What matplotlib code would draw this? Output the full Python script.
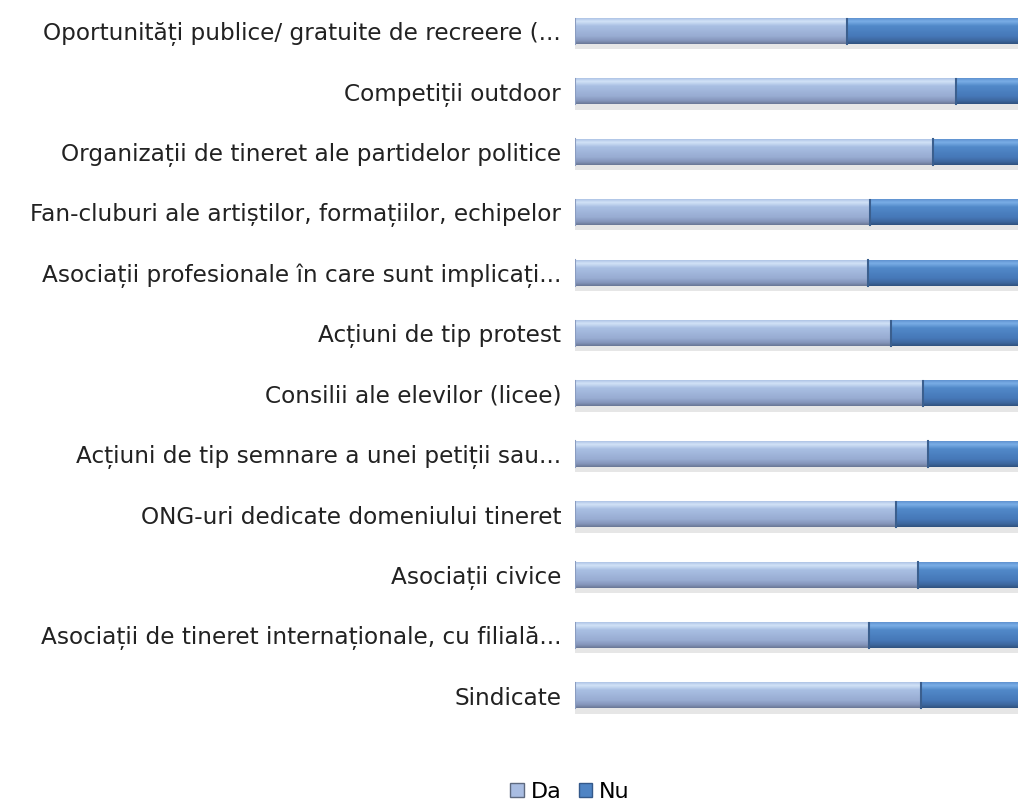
import numpy as np
import matplotlib
matplotlib.use('Agg')
import matplotlib.pyplot as plt
from matplotlib.colors import LinearSegmentedColormap

# categorii (de sus in jos)
categorii = [
    'Oportunități publice/ gratuite de recreere (...',
    'Competiții outdoor',
    'Organizații de tineret ale partidelor politice',
    'Fan-cluburi ale artiștilor, formațiilor, echipelor',
    'Asociații profesionale în care sunt implicați...',
    'Acțiuni de tip protest',
    'Consilii ale elevilor (licee)',
    'Acțiuni de tip semnare a unei petiții sau...',
    'ONG-uri dedicate domeniului tineret',
    'Asociații civice',
    'Asociații de tineret internaționale, cu filială...',
    'Sindicate',
]
da = [61.5, 86.0, 80.8, 66.7, 66.1, 71.3, 78.5, 79.6, 72.4, 77.4, 66.3, 78.1]
nu = [100 - v for v in da]

matplotlib.rcParams['font.family'] = ['DejaVu Sans']

fig = plt.figure(figsize=(10.18, 8.06), dpi=100)
ax = fig.add_axes([575 / 1018, 1 - 726 / 806, 443 / 1018, 725 / 806])

y = np.arange(len(categorii))
h = 0.42

# gradient vertical (sus -> jos)
cm_da = LinearSegmentedColormap.from_list('da', [(0, '#aec4e6'), (0.12, '#d2e3f7'), (0.3, '#a9bfe3'),
                                                 (0.7, '#98acd2'), (0.88, '#8495ba'), (1, '#6a7795')])
cm_nu = LinearSegmentedColormap.from_list('nu', [(0, '#5f92d0'), (0.12, '#7aaee6'), (0.3, '#5189c9'),
                                                 (0.7, '#4678b8'), (0.88, '#3d679e'), (1, '#30527f')])
grad = np.linspace(0, 1, 64).reshape(-1, 1)

def bara(left, width, cmap, margine):
    for yi, l, w in zip(y, left, width):
        # umbra
        ax.barh(yi + h * 0.6, w, h * 0.22, left=l, color='#e6e6e6', zorder=1)
        ax.imshow(grad, cmap=cmap, aspect='auto', interpolation='bilinear',
                  extent=(l, l + w, yi + h / 2, yi - h / 2), zorder=2)
        ax.plot([l, l], [yi - h / 2, yi + h / 2], color=margine, lw=1.5, zorder=3)

bara([0] * len(da), da, cm_da, '#8a9cc0')
bara(da, nu, cm_nu, '#3b5f8e')

# patch-uri pentru legenda
p1 = plt.Rectangle((0, 0), 1, 1, facecolor='#a9bde2', edgecolor='#5e6a80')
p2 = plt.Rectangle((0, 0), 1, 1, facecolor='#4f84c4', edgecolor='#34598a')

ax.set_xlim(0, 100)
ax.set_ylim(len(categorii) - 0.5, -0.5)
ax.set_yticks(y)
ax.set_yticklabels(categorii, fontsize=16.7, color='#222222')
ax.tick_params(axis='y', length=0, pad=10)
ax.set_xticks([])
for s in ax.spines.values():
    s.set_visible(False)

fig.legend([p1, p2], ['Da', 'Nu'], loc='center', bbox_to_anchor=(570 / 1018, 1 - 792 / 806),
           ncol=2, frameon=False, fontsize=16, handlelength=0.6, handleheight=0.6,
           handletextpad=0.3, columnspacing=0.8)

fig.savefig('out.png', dpi=100)
